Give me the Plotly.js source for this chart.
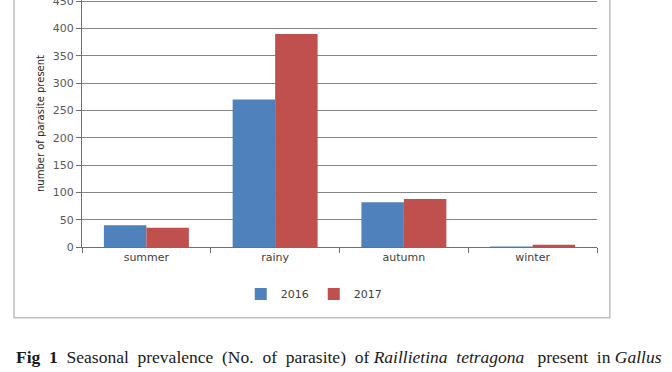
<!DOCTYPE html>
<html><head><meta charset="utf-8">
<script src="https://cdn.plot.ly/plotly-3.0.1.min.js"></script>
<style>html,body{margin:0;padding:0;background:#fff;}#chart{width:672px;height:372px;}</style>
</head><body><div id="chart"></div>
<script>
var seasons = ["summer", "rainy", "autumn", "winter"];
var values2016 = [40, 270, 82, 1];
var values2017 = [35, 390, 88, 4];
var yTicks = [0, 50, 100, 150, 200, 250, 300, 350, 400, 450];

var traces = [
  {type: "bar", name: "2016", x: seasons, y: values2016, marker: {color: "#4F81BD"}},
  {type: "bar", name: "2017", x: seasons, y: values2017, marker: {color: "#C0504D"}}
];

var layout = {
  width: 672, height: 372,
  margin: {l: 82, r: 75, t: 0, b: 125.3},
  paper_bgcolor: "#fff", plot_bgcolor: "#fff",
  barmode: "group", bargap: 0.34, bargroupgap: 0,
  font: {family: "DejaVu Sans", size: 11, color: "#404040"},
  showlegend: true,
  legend: {orientation: "h", x: 0.45, xanchor: "center", y: -0.19, yanchor: "middle",
           font: {size: 11, color: "#404040"}, itemwidth: 30, traceorder: "normal"},
  xaxis: {type: "category", showline: true, linecolor: "#6f6f6f", linewidth: 1,
          ticks: "outside", tickson: "boundaries", ticklen: 5, tickcolor: "#6f6f6f",
          showgrid: false, tickfont: {size: 11, color: "#404040"}, fixedrange: true},
  yaxis: {range: [0, 452], tickvals: yTicks, showline: true, linecolor: "#6f6f6f", linewidth: 1,
          ticks: "outside", ticklen: 5, tickcolor: "#6f6f6f", showgrid: true, gridcolor: "#858585",
          gridwidth: 1, zeroline: false, tickfont: {size: 11, color: "#595959"},
          ticklabeloverflow: "allow",
          title: {text: "number of parasite present", font: {size: 10, color: "#262626"}, standoff: 6}},
  shapes: [
    {type: "rect", xref: "paper", yref: "paper", x0: -0.132, x1: 1.025, y0: -0.286, y1: 1.2,
     line: {color: "#bfbfbf", width: 1.5}, fillcolor: "rgba(0,0,0,0)", layer: "below"}
  ],
  annotations: [
    {xref: "paper", yref: "paper", x: -0.132, xanchor: "left", y: -0.445, yanchor: "middle",
     showarrow: false, align: "left",
     font: {family: "Liberation Serif", size: 17.5, color: "#1a1a1a"},
     text: "<b>Fig  1</b>  Seasonal  prevalence  (No.  of  parasite)  of <i>Raillietina  tetragona</i>   present  in <i>Gallus</i>"}
  ]
};

Plotly.newPlot("chart", traces, layout, {displayModeBar: false, staticPlot: true});
</script></body></html>
